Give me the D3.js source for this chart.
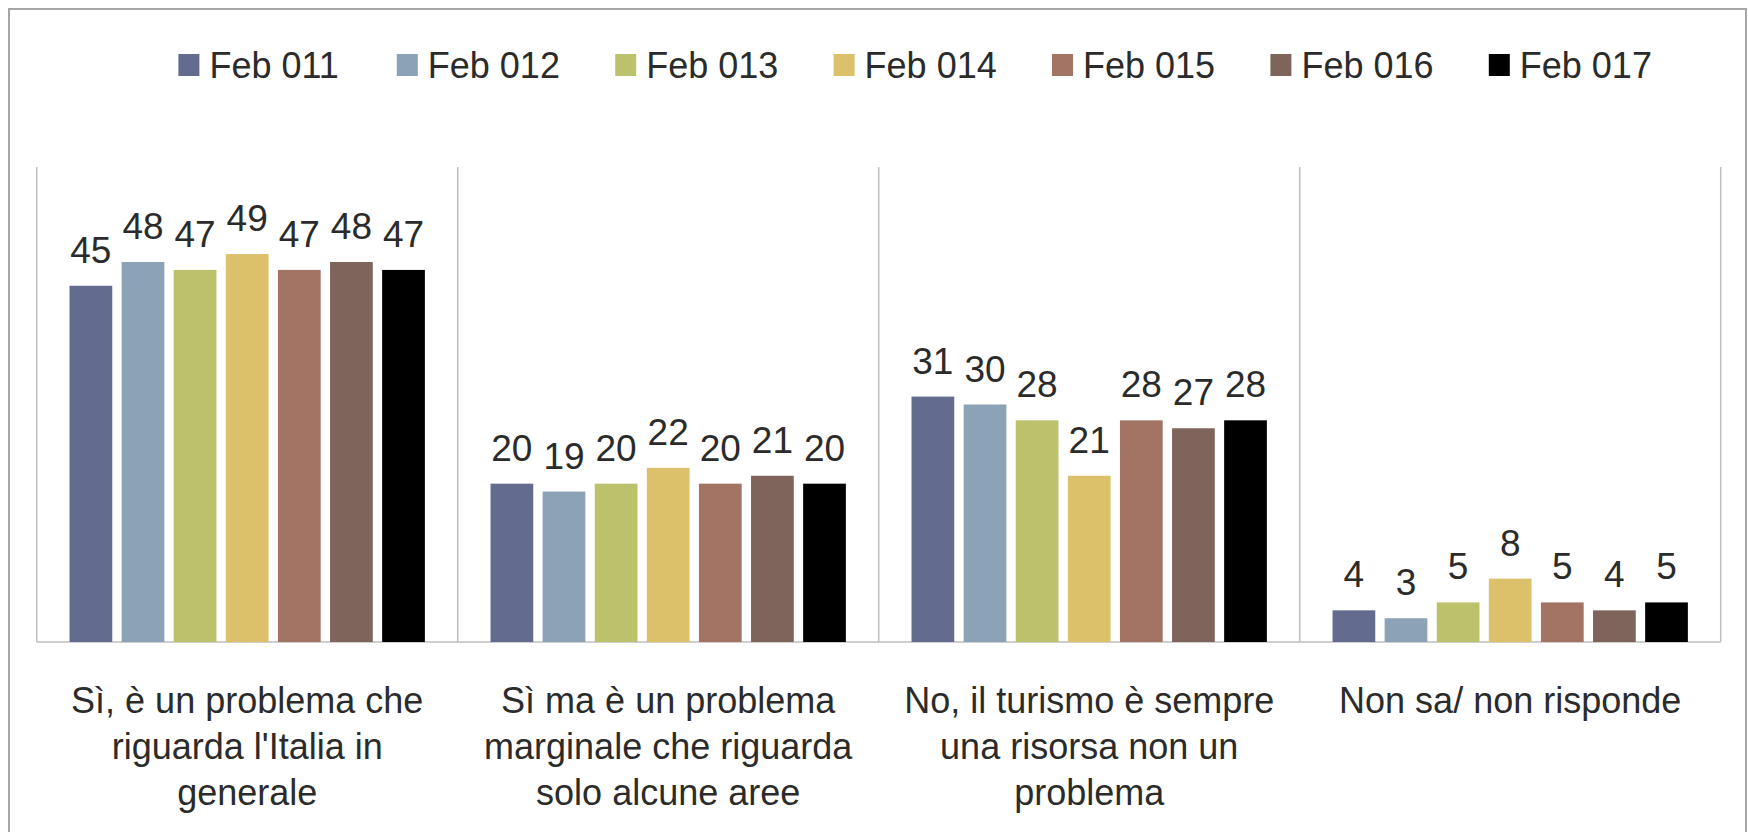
<!DOCTYPE html>
<html>
<head>
<meta charset="utf-8">
<script src="https://cdn.jsdelivr.net/npm/d3@7"></script>
<style>
  html, body { margin: 0; padding: 0; background: #ffffff; }
  svg { display: block; }
  text { font-family: "Liberation Sans", Arial, sans-serif; fill: #2b2b2b; }
</style>
</head>
<body>
<svg id="chart" width="1748" height="832"></svg>
<script>
// ---- data ----
const categories = [
  "Sì, è un problema che riguarda l'Italia in generale",
  "Sì ma è un problema marginale che riguarda solo alcune aree",
  "No, il turismo è sempre una risorsa non un problema",
  "Non sa/ non risponde"
];
const categoryLines = [
  ["Sì, è un problema che", "riguarda l'Italia in", "generale"],
  ["Sì ma è un problema", "marginale che riguarda", "solo alcune aree"],
  ["No, il turismo è sempre", "una risorsa non un", "problema"],
  ["Non sa/ non risponde"]
];
const series = ["Feb 011", "Feb 012", "Feb 013", "Feb 014", "Feb 015", "Feb 016", "Feb 017"];
const feb011 = [45, 20, 31, 4];
const feb012 = [48, 19, 30, 3];
const feb013 = [47, 20, 28, 5];
const feb014 = [49, 22, 21, 8];
const feb015 = [47, 20, 28, 5];
const feb016 = [48, 21, 27, 4];
const feb017 = [47, 20, 28, 5];
const seriesValues = [feb011, feb012, feb013, feb014, feb015, feb016, feb017];
const colors = ["#636b8f", "#8ba2b7", "#bcc16c", "#dcc16a", "#a37464", "#7f645b", "#000000"];
const yDomain = [0, 60];

// ---- layout ----
const svg = d3.select("#chart");
const plotLeft = 36.7, plotRight = 1720.7, plotTop = 167, plotBottom = 642;

// outer frame
svg.append("rect")
  .attr("x", 9).attr("y", 9)
  .attr("width", 1737).attr("height", 840)
  .attr("fill", "none")
  .attr("stroke", "#a6a6a6")
  .attr("stroke-width", 2);

const x0 = d3.scaleBand().domain(categories).range([plotLeft, plotRight]).padding(0);
const x1 = d3.scaleBand().domain(series).range([0, x0.bandwidth()])
  .paddingInner(0.18).paddingOuter(0.63);
const y = d3.scaleLinear().domain(yDomain).range([plotBottom, plotTop]);
const color = d3.scaleOrdinal().domain(series).range(colors);

// vertical category dividers
const boundaries = categories.map(c => x0(c)).concat([x0(categories[categories.length - 1]) + x0.bandwidth()]);
svg.append("g").selectAll("line").data(boundaries).join("line")
  .attr("x1", d => d).attr("x2", d => d)
  .attr("y1", y(yDomain[1])).attr("y2", y(0))
  .attr("stroke", "#bfbfbf").attr("stroke-width", 1.5);

// baseline
svg.append("line")
  .attr("x1", plotLeft).attr("x2", plotRight)
  .attr("y1", y(0)).attr("y2", y(0))
  .attr("stroke", "#bfbfbf").attr("stroke-width", 1.5);

// bars
const flat = [];
categories.forEach((c, ci) => {
  series.forEach((s, si) => {
    flat.push({ cat: c, ser: s, value: seriesValues[si][ci] });
  });
});

svg.append("g").selectAll("rect").data(flat).join("rect")
  .attr("x", d => x0(d.cat) + x1(d.ser))
  .attr("y", d => y(d.value))
  .attr("width", x1.bandwidth())
  .attr("height", d => y(0) - y(d.value))
  .attr("fill", d => color(d.ser));

// value labels
svg.append("g").selectAll("text").data(flat).join("text")
  .attr("x", d => x0(d.cat) + x1(d.ser) + x1.bandwidth() / 2)
  .attr("y", d => y(d.value) - 23)
  .attr("text-anchor", "middle")
  .attr("font-size", 37)
  .text(d => d.value);

// category labels
const catG = svg.append("g");
categories.forEach((c, ci) => {
  const t = catG.append("text")
    .attr("x", x0(c) + x0.bandwidth() / 2)
    .attr("y", 713)
    .attr("text-anchor", "middle")
    .attr("font-size", 36);
  categoryLines[ci].forEach((line, li) => {
    t.append("tspan")
      .attr("x", x0(c) + x0.bandwidth() / 2)
      .attr("dy", li === 0 ? 0 : 46)
      .text(line);
  });
});

// legend
const legendStart = 178.4, legendStep = 218.4;
const lg = svg.append("g").selectAll("g").data(series).join("g")
  .attr("transform", (d, i) => `translate(${legendStart + i * legendStep},0)`);
lg.append("rect")
  .attr("x", 0).attr("y", 54)
  .attr("width", 21).attr("height", 22)
  .attr("fill", d => color(d));
lg.append("text")
  .attr("x", 31).attr("y", 78)
  .attr("font-size", 36)
  .text(d => d);
</script>
</body>
</html>
